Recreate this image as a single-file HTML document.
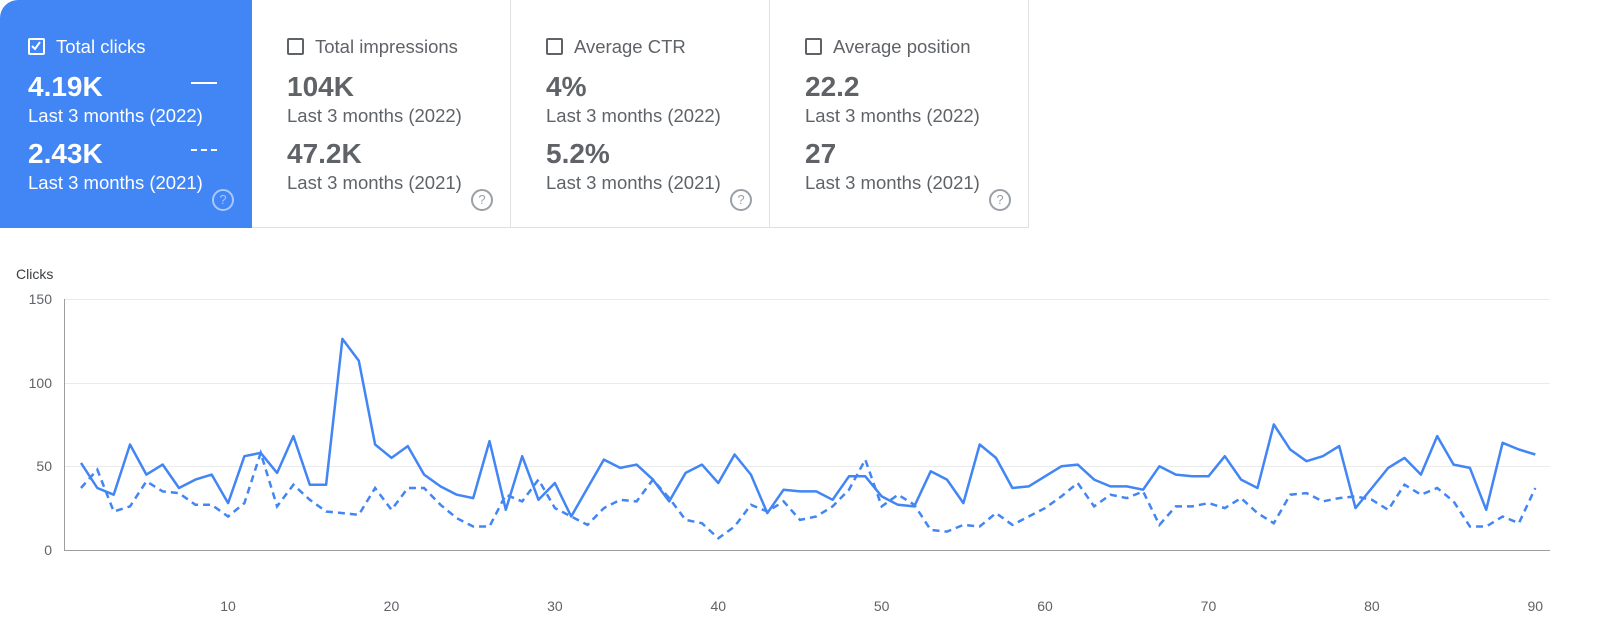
<!DOCTYPE html>
<html><head><meta charset="utf-8"><style>
body{margin:0;width:1600px;height:644px;background:#fff;font-family:"Liberation Sans",Arial,sans-serif;overflow:hidden;position:relative}
.card{position:absolute;top:0;height:228px;box-sizing:border-box;border-right:1px solid #e0e0e0;border-bottom:1px solid #e0e0e0;color:#5f6368}
.card.sel{background:#4285f4;color:#fff;border:none;border-top-left-radius:18px}
.t{position:absolute;left:56px;top:36px;font-size:18.5px}
.cb{position:absolute;left:28px;top:38px;width:17px;height:17px;border:2px solid #5f6368;border-radius:2px;box-sizing:border-box}
.sel .cb{border-color:#fff}
.v{position:absolute;left:28px;font-size:28px;font-weight:bold}
.s{position:absolute;left:28px;font-size:18.5px}
.q{position:absolute;left:212px;top:189px;width:18px;height:18px;border:2px solid #9aa0a6;border-radius:50%;font-size:13px;text-align:center;line-height:18px;color:#9aa0a6}
.sel .q{border-color:#a8c7fa;color:#a8c7fa}
.card:not(.sel) .v{color:#5f6368}
</style></head><body>
<div class="card sel" style="left:0;width:252px">
<div class="cb"><svg width="13" height="13" style="position:absolute;left:0;top:0"><path d="M2 6 L5 9 L10 2" stroke="#fff" stroke-width="2" fill="none"/></svg></div>
<div class="t">Total clicks</div>
<div class="v" style="top:71px">4.19K</div>
<div style="position:absolute;left:191px;top:82px;width:26px;height:2px;background:#fff"></div>
<div class="s" style="top:105px">Last 3 months (2022)</div>
<div class="v" style="top:138px">2.43K</div>
<div style="position:absolute;left:191px;top:149px;width:26px;height:0;border-top:2px dashed #fff"></div>
<div class="s" style="top:172px">Last 3 months (2021)</div>
<div class="q">?</div></div>
<div class="card" style="left:252px;width:259px">
<div class="cb" style="left:35px"></div><div class="t" style="left:63px">Total impressions</div>
<div class="v" style="top:71px;left:35px">104K</div><div class="s" style="top:105px;left:35px">Last 3 months (2022)</div>
<div class="v" style="top:138px;left:35px">47.2K</div><div class="s" style="top:172px;left:35px">Last 3 months (2021)</div>
<div class="q" style="left:219px">?</div></div>
<div class="card" style="left:511px;width:259px">
<div class="cb" style="left:35px"></div><div class="t" style="left:63px">Average CTR</div>
<div class="v" style="top:71px;left:35px">4%</div><div class="s" style="top:105px;left:35px">Last 3 months (2022)</div>
<div class="v" style="top:138px;left:35px">5.2%</div><div class="s" style="top:172px;left:35px">Last 3 months (2021)</div>
<div class="q" style="left:219px">?</div></div>
<div class="card" style="left:770px;width:259px">
<div class="cb" style="left:35px"></div><div class="t" style="left:63px">Average position</div>
<div class="v" style="top:71px;left:35px">22.2</div><div class="s" style="top:105px;left:35px">Last 3 months (2022)</div>
<div class="v" style="top:138px;left:35px">27</div><div class="s" style="top:172px;left:35px">Last 3 months (2021)</div>
<div class="q" style="left:219px">?</div></div>
<svg id="c" width="1600" height="644" style="position:absolute;left:0;top:0" font-family="Liberation Sans, Arial, sans-serif">
<text x="16" y="279" font-size="14" fill="#3c4043">Clicks</text>
<g stroke="#ebebeb" stroke-width="1"><line x1="64" x2="1550" y1="299.5" y2="299.5"/><line x1="64" x2="1550" y1="383.5" y2="383.5"/><line x1="64" x2="1550" y1="466.5" y2="466.5"/></g>
<line x1="64" x2="1550" y1="550.5" y2="550.5" stroke="#9e9e9e"/>
<line x1="64.5" x2="64.5" y1="299" y2="551" stroke="#9e9e9e"/>
<g font-size="14" fill="#5f6368" text-anchor="end"><text x="52" y="304">150</text><text x="52" y="388">100</text><text x="52" y="471">50</text><text x="52" y="555">0</text></g>
<g id="xl" font-size="14" fill="#5f6368" text-anchor="middle"></g>
<polyline id="d" fill="none" stroke="#4285f4" stroke-width="2.5" stroke-dasharray="7,5"/>
<polyline id="s" fill="none" stroke="#4285f4" stroke-width="2.5" stroke-linejoin="round"/>
</svg>
<script>
var S=[52,37,33,63,45,51,37,42,45,28,56,58,46,68,39,39,126,113,63,55,62,45,38,33,31,65,24,56,30,40,20,37,54,49,51,42,29,46,51,40,57,45,22,36,35,35,30,44,44,32,27,26,47,42,28,63,55,37,38,44,50,51,42,38,38,36,50,45,44,44,56,42,37,75,60,53,56,62,25,37,49,55,45,68,51,49,24,64,60,57];
var D=[37,48,23,26,41,35,34,27,27,20,28,58,26,39,30,23,22,21,37,24,37,37,27,19,14,14,33,29,42,25,20,15,25,30,29,42,31,18,16,7,14,27,23,29,18,20,26,36,54,26,33,27,12,11,15,14,22,15,20,25,32,40,26,33,31,35,15,26,26,28,25,31,22,16,33,34,29,31,32,30,24,39,33,37,29,14,14,20,16,37];
function p(a){return a.map(function(v,i){return (81+i*16.34).toFixed(1)+","+(550-v*1.675).toFixed(1)}).join(" ")}
document.getElementById("s").setAttribute("points",p(S));
document.getElementById("d").setAttribute("points",p(D));
var g=document.getElementById("xl"),h="";
for(var k=10;k<=90;k+=10){h+='<text x="'+(81+(k-1)*16.34)+'" y="611">'+k+'</text>'}
g.innerHTML=h;
</script>
</body></html>
